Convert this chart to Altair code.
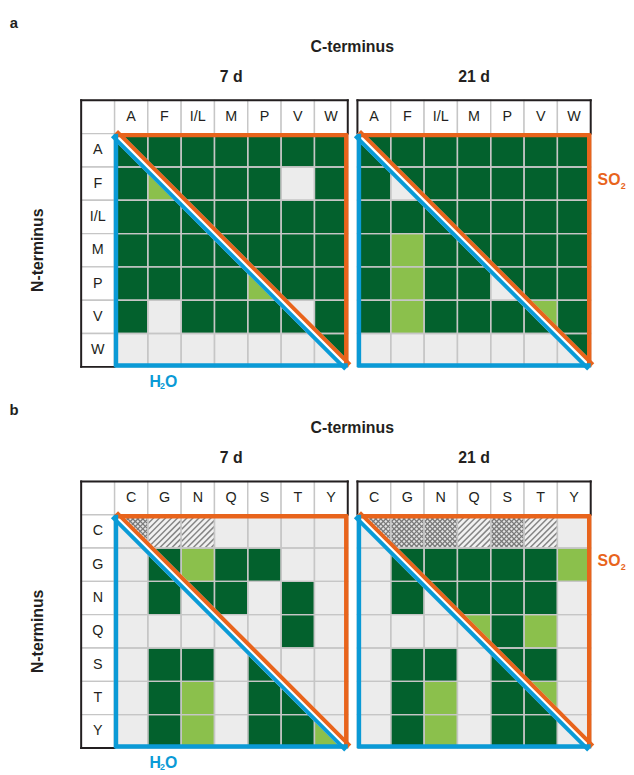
import altair as alt
import numpy as np
import pandas as pd

CELL = 33.7
FONT = "Liberation Sans"
INK = "#231f20"
ORANGE = "#e8641c"
BLUE = "#0a9ad6"
GRIDLINE = "#c6c6c6"

AA_A = ["A", "F", "I/L", "M", "P", "V", "W"]
AA_B = ["C", "G", "N", "Q", "S", "T", "Y"]

# codes: D dark green, L light green, G grey, H hatched, X cross-hatched
# diagonal cells are split: "SO2 half|H2O half"
A_7D = [
    ["D|D", "D", "D", "D", "D", "D", "D"],
    ["D", "D|L", "D", "D", "D", "G", "D"],
    ["D", "D", "D|D", "D", "D", "D", "D"],
    ["D", "D", "D", "D|D", "D", "D", "D"],
    ["D", "D", "D", "D", "D|L", "D", "D"],
    ["D", "G", "D", "D", "D", "G|D", "D"],
    ["G", "G", "G", "G", "G", "G", "D|G"],
]
A_21D = [
    ["D|D", "D", "D", "D", "D", "D", "D"],
    ["D", "D|G", "D", "D", "D", "D", "D"],
    ["D", "D", "D|D", "D", "D", "D", "D"],
    ["D", "L", "D", "D|D", "D", "D", "D"],
    ["D", "L", "D", "D", "D|G", "D", "D"],
    ["D", "L", "D", "D", "D", "L|D", "D"],
    ["G", "G", "G", "G", "G", "G", "D|G"],
]
B_7D = [
    ["X|G", "H", "H", "G", "G", "G", "G"],
    ["G", "D|D", "L", "D", "D", "G", "G"],
    ["G", "D", "D|G", "D", "G", "D", "G"],
    ["G", "G", "G", "G|G", "G", "D", "G"],
    ["G", "D", "D", "G", "G|D", "G", "G"],
    ["G", "D", "L", "G", "D", "G|D", "G"],
    ["G", "D", "L", "G", "D", "D", "G|L"],
]
B_21D = [
    ["X|G", "X", "X", "H", "X", "H", "G"],
    ["G", "D|D", "D", "D", "D", "D", "L"],
    ["G", "D", "D|G", "D", "D", "D", "G"],
    ["G", "G", "G", "L|G", "D", "L", "G"],
    ["G", "D", "D", "G", "D|D", "D", "G"],
    ["G", "D", "L", "G", "D", "L|D", "G"],
    ["G", "D", "L", "G", "D", "D", "G|G"],
]

CODES = ["D", "L", "G", "H", "X"]
FILLS = ["#03612d", "#8bc04c", "#ececec", "#f1f1f1", "#e4e4e4"]


def hatch(x0, y0, step, direction):
    out = []
    for t in np.arange(step / 2, 2, step):
        if direction == "/":
            if t <= 1:
                out.append((x0, y0 + t, x0 + t, y0))
            else:
                out.append((x0 + t - 1, y0 + 1, x0 + 1, y0 + t - 1))
        else:
            if t <= 1:
                out.append((x0, y0 + 1 - t, x0 + t, y0 + 1))
            else:
                out.append((x0 + t - 1, y0, x0 + 1, y0 + 2 - t))
    return out


def note(txt, x, y, size=16, bold=True, color=INK, align="center",
         baseline="middle", angle=None):
    kw = dict(font=FONT, fontSize=size, fontWeight="bold" if bold else "normal",
              color=color, align=align, baseline=baseline)
    if angle is not None:
        kw["angle"] = angle
    return alt.Chart(pd.DataFrame({"t": [txt]})).mark_text(**kw).encode(
        x=alt.value(x), y=alt.value(y), text="t:N")


def panel(aas, grid, hdr_col, day, letter=None, letter_y=-77, so2=False,
          h2o=False, anchor=False, cterm=False):
    n = len(aas)
    xo = 1 if hdr_col else 0
    ncols = n + xo
    W = ncols * CELL
    H = (n + 1) * CELL
    xsc = alt.Scale(domain=[0, ncols], nice=False, zero=False)
    ysc = alt.Scale(domain=[0, n + 1], nice=False, zero=False, reverse=True)
    csc = alt.Scale(domain=CODES, range=FILLS)

    def X(f):
        return alt.X(f, type="quantitative", scale=xsc, axis=None)

    def Y(f):
        return alt.Y(f, type="quantitative", scale=ysc, axis=None, stack=None)

    def rules(segs, **kw):
        df = pd.DataFrame(segs, columns=["x", "y", "x2", "y2"])
        return alt.Chart(df).mark_rule(**kw).encode(
            x=X("x"), y=Y("y"), x2=alt.X2("x2"), y2=alt.Y2("y2"))

    # header cells
    hdr = []
    for j, a in enumerate(aas):
        hdr.append(dict(x=xo + j, x2=xo + j + 1, y=0, y2=1, label=a,
                        tx=xo + j + 0.5, ty=0.5))
    if hdr_col:
        hdr.append(dict(x=0, x2=1, y=0, y2=1, label="", tx=0.5, ty=0.5))
        for i, a in enumerate(aas):
            hdr.append(dict(x=0, x2=1, y=1 + i, y2=2 + i, label=a,
                            tx=0.5, ty=1.5 + i))
    hdr = pd.DataFrame(hdr)

    cells, tris, hat_h, hat_x = [], [], [], []
    for i, row in enumerate(grid):
        for j, code in enumerate(row):
            up, lo = code.split("|") if "|" in code else (code, code)
            x0, y0 = xo + j, 1 + i
            cells.append(dict(x=x0, x2=x0 + 1, y=y0, y2=y0 + 1, code=up))
            if up == "H":
                hat_h += hatch(x0, y0, 0.18, "/")
            if up == "X":
                hat_x += hatch(x0, y0, 0.15, "/") + hatch(x0, y0, 0.15, "\\")
            if i == j:
                cid = f"{i}"
                tris.append(dict(cid=cid, x=x0, y=y0, y2=y0 + 1, code=lo))
                tris.append(dict(cid=cid, x=x0 + 1, y=y0 + 1, y2=y0 + 1, code=lo))
    cells = pd.DataFrame(cells)
    tris = pd.DataFrame(tris)

    layers = []
    layers.append(alt.Chart(hdr).mark_rect(fill="white", stroke=GRIDLINE,
                                           strokeWidth=1.4).encode(
        x=X("x"), x2=alt.X2("x2"), y=Y("y"), y2=alt.Y2("y2")))
    layers.append(alt.Chart(hdr).mark_text(font=FONT, fontSize=14.5, color=INK,
                                           baseline="middle").encode(
        x=X("tx"), y=Y("ty"), text="label:N"))
    layers.append(alt.Chart(cells).mark_rect(strokeWidth=0).encode(
        x=X("x"), x2=alt.X2("x2"), y=Y("y"), y2=alt.Y2("y2"),
        color=alt.Color("code:N", scale=csc, legend=None)))
    if hat_h:
        layers.append(rules(hat_h, color="#858585", strokeWidth=1.5))
    if hat_x:
        layers.append(rules(hat_x, color="#787878", strokeWidth=1.25))
    layers.append(alt.Chart(tris).mark_area(interpolate="linear").encode(
        x=X("x"), y=Y("y"), y2=alt.Y2("y2"), detail="cid:N",
        color=alt.Color("code:N", scale=csc, legend=None)))
    layers.append(alt.Chart(cells).mark_rect(fillOpacity=0, stroke=GRIDLINE,
                                             strokeWidth=1.4).encode(
        x=X("x"), x2=alt.X2("x2"), y=Y("y"), y2=alt.Y2("y2")))

    # black outer frame of the header
    black = [(0, 0, ncols, 0), (ncols, 0, ncols, 1)]
    if hdr_col:
        black += [(0, 0, 0, n + 1), (0, n + 1, 1, n + 1)]
    else:
        black += [(0, 0, 0, 1)]
    layers.append(rules(black, color=INK, strokeWidth=2, strokeCap="square"))

    # diagonal split
    diag = [(xo, 1, xo + n, n + 1)]
    layers.append(rules(diag, color="white", strokeWidth=10))
    layers.append(rules([(xo, 1, xo + n, 1)], color=ORANGE, strokeWidth=4.5,
                        yOffset=1.5, y2Offset=1.5))
    layers.append(rules([(xo + n, 1, xo + n, n + 1)], color=ORANGE,
                        strokeWidth=4.5, xOffset=-1.5, x2Offset=-1.5))
    layers.append(rules(diag, color=ORANGE, strokeWidth=4, xOffset=2.2,
                        x2Offset=2.2, yOffset=-2.2, y2Offset=-2.2))
    layers.append(rules([(xo, 1, xo, n + 1)], color=BLUE, strokeWidth=4.5,
                        xOffset=1.5, x2Offset=1.5))
    layers.append(rules([(xo, n + 1, xo + n, n + 1)], color=BLUE,
                        strokeWidth=4.5, yOffset=-1.5, y2Offset=-1.5))
    layers.append(rules(diag, color=BLUE, strokeWidth=4, xOffset=-2.2,
                        x2Offset=-2.2, yOffset=2.2, y2Offset=2.2))

    # annotations
    cx = (xo + n / 2) * CELL
    layers.append(note(day, cx, -24))
    if cterm:
        layers.append(note("C-terminus", W + 4.5, -54))
    if hdr_col:
        layers.append(note("N-terminus", -44, (1 + n / 2) * CELL, angle=270))
    if letter:
        layers.append(note(letter, -68, letter_y, size=15))
    if so2:
        sx = W + 7
        sy = 2.55 * CELL
        layers.append(note("SO", sx, sy, color=ORANGE, align="left",
                           baseline="alphabetic"))
        layers.append(note("2", sx + 23.5, sy + 4, size=9, color=ORANGE,
                           align="left", baseline="alphabetic"))
    if h2o:
        hx = 69
        hy = H + 20
        layers.append(note("H", hx, hy, color=BLUE, align="left",
                           baseline="alphabetic"))
        layers.append(note("2", hx + 10.8, hy + 2, size=9, color=BLUE,
                           align="left", baseline="alphabetic"))
        layers.append(note("O", hx + 15.8, hy, color=BLUE, align="left",
                           baseline="alphabetic"))
    if anchor:
        layers.append(alt.Chart(pd.DataFrame({"a": [0]})).mark_rule(
            opacity=0).encode(x=alt.value(-74), x2=alt.value(-73),
                              y=alt.value(-89), y2=alt.value(-89)))

    return alt.layer(*layers).properties(width=W, height=H)


chart = alt.concat(
    panel(AA_A, A_7D, True, "7 d", letter="a", letter_y=-78, h2o=True,
          anchor=True, cterm=True),
    panel(AA_A, A_21D, False, "21 d", so2=True),
    panel(AA_B, B_7D, True, "7 d", letter="b", letter_y=-72, h2o=True,
          cterm=True),
    panel(AA_B, B_21D, False, "21 d", so2=True),
    columns=2,
    spacing={"row": 115.4, "column": 9.4},
    bounds="flush",
    padding=0,
).configure_view(strokeWidth=0)

chart.save("out.html", embed_options={"renderer": "svg", "actions": False})
